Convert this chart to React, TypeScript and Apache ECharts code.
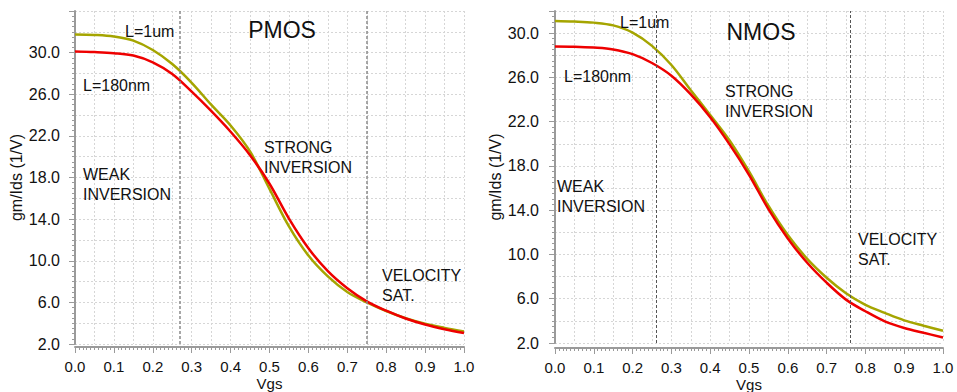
import { useEffect, useRef } from "react";
import * as echarts from "echarts";

const vgs = [0, 0.05, 0.1, 0.15, 0.2, 0.25, 0.3, 0.35, 0.4, 0.45, 0.5, 0.55, 0.6, 0.65, 0.7, 0.75, 0.8, 0.85, 0.9, 0.95, 1.0];

const pmos1um = [31.75, 31.7, 31.55, 31.15, 30.25, 28.9, 27.1, 25.0, 23.0, 20.5, 16.9, 13.3, 10.5, 8.5, 7.0, 6.0, 5.17, 4.48, 3.95, 3.55, 3.2];
const pmos180nm = [30.1, 30.05, 29.95, 29.72, 29.07, 27.95, 26.25, 24.4, 22.4, 20.15, 17.4, 14.05, 11.2, 9.0, 7.36, 6.1, 5.2, 4.45, 3.87, 3.42, 3.05];

const nmos1um = [31.1, 31.05, 30.95, 30.7, 30.05, 28.85, 27.12, 24.84, 22.6, 20.3, 17.5, 14.4, 11.75, 9.6, 7.9, 6.5, 5.45, 4.72, 4.05, 3.56, 3.1];
const nmos180nm = [28.8, 28.78, 28.7, 28.53, 28.1, 27.3, 26.15, 24.46, 22.4, 19.95, 17.2, 14.1, 11.45, 9.25, 7.45, 5.92, 4.87, 3.96, 3.36, 2.92, 2.5];

const pmosRegionBounds = [0.27, 0.753];
const nmosRegionBounds = [0.259, 0.759];

const xMin = 0;
const xMax = 1;
const xLabelStep = 0.1;
const xGridStep = 0.05;
const yMin = 2;
const pmosYMax = 34;
const nmosYMax = 32;
const yLabelStep = 4;
const yGridStep = 2;

const seriesNames = ["L=1um", "L=180nm"];

const FONT = "'Liberation Sans', Arial, Helvetica, sans-serif";
const OLIVE = "#a5a500";
const RED = "#ee0000";
const TEXT = "#111111";
const AXIS = "#9a9a9a";

function pairs(ys: number[]) {
  return vgs.map((x, i) => [x, ys[i]]);
}

function visibleX(gridIndex: number, offset: number) {
  return {
    type: "value",
    gridIndex,
    min: xMin,
    max: xMax,
    interval: xLabelStep,
    offset,
    name: "Vgs",
    nameLocation: "middle",
    nameGap: 29,
    nameMoveOverlap: false,
    nameTextStyle: { fontSize: 15, color: TEXT, fontFamily: FONT },
    axisLine: { show: true, lineStyle: { color: AXIS, width: 2 } },
    axisTick: { show: true, length: 6, lineStyle: { color: AXIS, width: 1 } },
    minorTick: { show: true, splitNumber: 10, length: 3, lineStyle: { color: AXIS, width: 1 } },
    axisLabel: {
      fontSize: 15,
      color: TEXT,
      fontFamily: FONT,
      margin: 12,
      formatter: (v: number) => v.toFixed(1),
    },
    splitLine: { show: false },
  };
}

function visibleY(gridIndex: number, max: number, offset: number) {
  return {
    type: "value",
    gridIndex,
    min: yMin,
    max,
    interval: yLabelStep,
    offset,
    name: "gm/Ids (1/V)",
    nameLocation: "middle",
    nameGap: 43,
    nameTextStyle: { fontSize: 16, color: TEXT, fontFamily: FONT },
    axisLine: { show: true, lineStyle: { color: AXIS, width: 2 } },
    axisTick: { show: true, length: 6, lineStyle: { color: AXIS, width: 1 } },
    minorTick: { show: true, splitNumber: 8, length: 3, lineStyle: { color: AXIS, width: 1 } },
    axisLabel: {
      fontSize: 16,
      color: TEXT,
      fontFamily: FONT,
      margin: 10,
      showMaxLabel: false,
      formatter: (v: number) => v.toFixed(1),
    },
    splitLine: { show: false },
  };
}

function gridX(gridIndex: number) {
  return {
    type: "value",
    gridIndex,
    min: xMin,
    max: xMax,
    interval: xGridStep,
    axisLine: { show: false },
    axisTick: { show: false },
    axisLabel: { show: false },
    splitLine: { show: true, lineStyle: { color: "#d6d6d6", type: [2, 2], width: 1 } },
  };
}

function gridY(gridIndex: number, max: number) {
  return {
    type: "value",
    gridIndex,
    min: yMin,
    max,
    interval: yGridStep,
    axisLine: { show: false },
    axisTick: { show: false },
    axisLabel: { show: false },
    splitLine: { show: true, lineStyle: { color: "#d6d6d6", type: [2, 2], width: 1 } },
  };
}

function lineSeries(name: string, ys: number[], color: string, xi: number, yi: number, extra: any = {}) {
  return {
    type: "line",
    name,
    xAxisIndex: xi,
    yAxisIndex: yi,
    data: pairs(ys),
    smooth: 0.35,
    showSymbol: false,
    symbol: "none",
    lineStyle: { color, width: 2.5 },
    z: 3,
    ...extra,
  };
}

function boundaryLines(bounds: number[], color: string, width: number) {
  return {
    markLine: {
      silent: true,
      symbol: "none",
      label: { show: false },
      lineStyle: { color, type: [3, 2], width },
      data: bounds.map((x) => ({ xAxis: x })),
    },
  };
}

function txt(text: string, x: number, y: number, size = 16) {
  return {
    type: "text",
    x,
    y,
    z: 10,
    style: {
      text,
      x: 0,
      y: 0,
      fill: TEXT,
      font: `${size}px ${FONT}`,
      align: "left",
      verticalAlign: "middle",
    },
  };
}

export default function App() {
  const ref = useRef<HTMLDivElement>(null);

  useEffect(() => {
    document.body.style.margin = "0";
    const chart = echarts.init(ref.current!, null, { renderer: "svg" });

    const option: any = {
      animation: false,
      backgroundColor: "#ffffff",
      textStyle: { fontFamily: FONT },
      grid: [
        { left: 75, top: 11, width: 389, height: 333, containLabel: false, outerBoundsMode: "none" },
        { left: 555, top: 11, width: 388, height: 332, containLabel: false, outerBoundsMode: "none" },
      ],
      xAxis: [visibleX(0, 3), visibleX(1, 5), gridX(0), gridX(1)],
      yAxis: [visibleY(0, pmosYMax, 5), visibleY(1, nmosYMax, 6), gridY(0, pmosYMax), gridY(1, nmosYMax)],
      series: [
        lineSeries(seriesNames[0], pmos1um, OLIVE, 0, 0, boundaryLines(pmosRegionBounds, "#8a8a8a", 1.5)),
        lineSeries(seriesNames[1], pmos180nm, RED, 0, 0),
        lineSeries(seriesNames[0], nmos1um, OLIVE, 1, 1, boundaryLines(nmosRegionBounds, "#555555", 1)),
        lineSeries(seriesNames[1], nmos180nm, RED, 1, 1),
      ],
      graphic: [
        { type: "text", x: 282, y: 29.5, z: 10, style: { text: "PMOS", fill: TEXT, font: `23px ${FONT}`, align: "center", verticalAlign: "middle" } },
        { type: "text", x: 761, y: 31.5, z: 10, style: { text: "NMOS", fill: TEXT, font: `23px ${FONT}`, align: "center", verticalAlign: "middle" } },
        txt("L=1um", 125, 31),
        txt("L=180nm", 83, 85),
        txt("WEAK", 83, 174),
        txt("INVERSION", 83, 194),
        txt("STRONG", 264, 147.5),
        txt("INVERSION", 264, 167),
        txt("VELOCITY", 382, 275),
        txt("SAT.", 382, 295),
        txt("L=1um", 620, 22),
        txt("L=180nm", 564, 76),
        txt("STRONG", 725, 91.5),
        txt("INVERSION", 725, 111),
        txt("WEAK", 557, 186),
        txt("INVERSION", 557, 206.5),
        txt("VELOCITY", 858, 239),
        txt("SAT.", 858, 259),
      ],
    };

    chart.setOption(option);
    return () => chart.dispose();
  }, []);

  return <div ref={ref} style={{ width: 957, height: 392 }} />;
}
